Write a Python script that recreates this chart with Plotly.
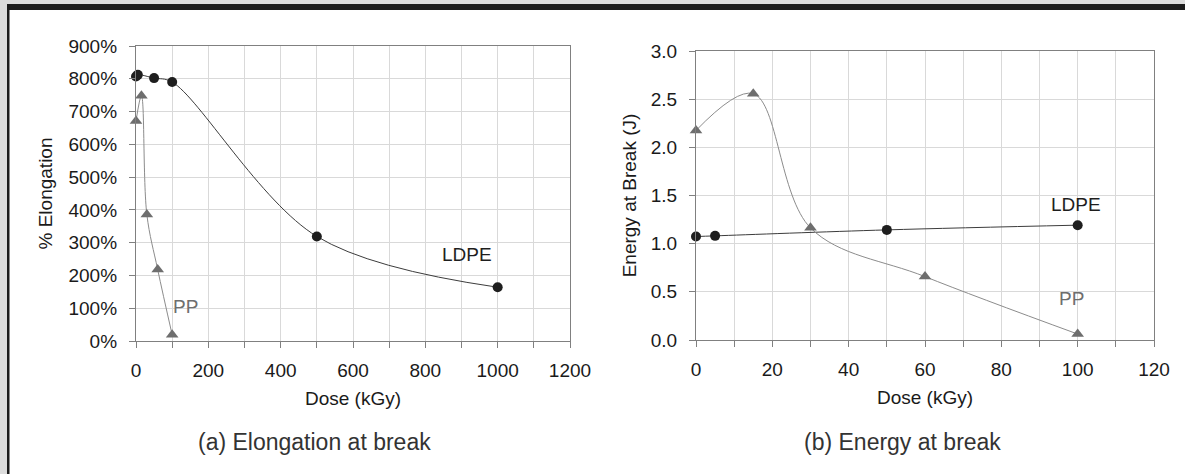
import plotly.graph_objects as go

# (a) elongation at break, % vs dose (kGy)
ldpe_dose_a = [0, 5, 50, 100, 500, 1000]
ldpe_elong = [807, 812, 802, 790, 319, 164]
pp_dose_a = [0, 15, 30, 60, 100]
pp_elong = [671, 748, 386, 218, 19]

# (b) energy at break, J vs dose (kGy)
ldpe_dose_b = [0, 5, 50, 100]
ldpe_energy = [1.074, 1.081, 1.143, 1.192]
pp_dose_b = [0, 15, 30, 60, 100]
pp_energy = [2.175, 2.557, 1.164, 0.658, 0.062]

x_ticks_a = list(range(0, 1201, 100))
x_ticks_b = list(range(0, 121, 10))

FONT = "Liberation Sans, Arial, sans-serif"
LDPE_COL = "#1e1e1e"
PP_COL = "#6e6e6e"

fig = go.Figure()

def add_series(x, y, xa, ya, marker, mcol, lcol, size):
    fig.add_trace(go.Scatter(
        x=x, y=y, xaxis=xa, yaxis=ya, mode="lines+markers",
        line=dict(color=lcol, width=1, shape="spline", smoothing=1),
        marker=dict(symbol=marker, color=mcol, size=size),
        cliponaxis=False, showlegend=False, hoverinfo="x+y"))

add_series(ldpe_dose_a, ldpe_elong, "x", "y", "circle", LDPE_COL, "#3c3c3c", 10)
add_series(pp_dose_a, pp_elong, "x", "y", "triangle-up", PP_COL, "#8c8c8c", 11)
add_series(ldpe_dose_b, ldpe_energy, "x2", "y2", "circle", LDPE_COL, "#3c3c3c", 10)
add_series(pp_dose_b, pp_energy, "x2", "y2", "triangle-up", PP_COL, "#8c8c8c", 11)

W, H = 1185, 474

def px_x(p):
    return p / W

def px_y(p):
    return 1 - p / H

axis_common = dict(
    showgrid=True, gridcolor="#d9d9d9", gridwidth=1,
    showline=True, linecolor="#808080", linewidth=1.3, mirror=True,
    ticks="outside", ticklen=6, tickcolor="#808080", zeroline=False,
    tickfont=dict(family=FONT, size=19, color="#1a1a1a"),
    ticklabelstandoff=8, automargin=False,
)

fig.update_layout(
    width=W, height=H,
    margin=dict(l=0, r=0, t=0, b=0, pad=0, autoexpand=False),
    paper_bgcolor="white", plot_bgcolor="white",
    font=dict(family=FONT, size=19, color="#1a1a1a"),
    xaxis=dict(axis_common, domain=[px_x(136), px_x(570)], range=[0, 1200],
               tickvals=x_ticks_a,
               ticktext=[str(v) if v % 200 == 0 else "" for v in x_ticks_a],
               ticklabelstandoff=6,
               title=dict(text="Dose (kGy)", standoff=11,
                          font=dict(family=FONT, size=19, color="#1a1a1a")),
               anchor="y"),
    yaxis=dict(axis_common, domain=[px_y(341), px_y(46)], range=[0, 900],
               dtick=100, ticksuffix="%",
               title=dict(text="% Elongation", standoff=10,
                          font=dict(family=FONT, size=19, color="#1a1a1a")),
               anchor="x"),
    xaxis2=dict(axis_common, domain=[px_x(696), px_x(1154)], range=[0, 120],
                tickvals=x_ticks_b,
                ticktext=[str(v) if v % 20 == 0 else "" for v in x_ticks_b],
                ticklabelstandoff=6,
                title=dict(text="Dose (kGy)", standoff=11,
                           font=dict(family=FONT, size=19, color="#1a1a1a")),
                anchor="y2"),
    yaxis2=dict(axis_common, domain=[px_y(340), px_y(51)], range=[0, 3],
                dtick=0.5, tickformat=".1f",
                title=dict(text="Energy at Break (J)", standoff=8,
                           font=dict(family=FONT, size=19, color="#1a1a1a")),
                anchor="x2"),
)

# series labels
fig.add_annotation(x=914, y=264, xref="x", yref="y", text="LDPE", showarrow=False,
                   font=dict(family=FONT, size=19, color=LDPE_COL))
fig.add_annotation(x=138, y=105, xref="x", yref="y", text="PP", showarrow=False,
                   font=dict(family=FONT, size=19, color=PP_COL))
fig.add_annotation(x=99.5, y=1.41, xref="x2", yref="y2", text="LDPE", showarrow=False,
                   font=dict(family=FONT, size=19, color=LDPE_COL))
fig.add_annotation(x=98.5, y=0.43, xref="x2", yref="y2", text="PP", showarrow=False,
                   font=dict(family=FONT, size=19, color=PP_COL))

# sub-captions
fig.add_annotation(x=px_x(314), y=px_y(442), xref="paper", yref="paper",
                   xanchor="center", yanchor="middle",
                   text="(a) Elongation at break", showarrow=False,
                   font=dict(family=FONT, size=23, color="#333333"))
fig.add_annotation(x=px_x(902), y=px_y(442), xref="paper", yref="paper",
                   xanchor="center", yanchor="middle",
                   text="(b) Energy at break", showarrow=False,
                   font=dict(family=FONT, size=23, color="#333333"))

# page frame: grey margin, dark top rule and left rule
fig.add_shape(type="rect", xref="paper", yref="paper", x0=0, x1=px_x(7), y0=0, y1=1,
              fillcolor="#dcdcdc", line_width=0, layer="below")
fig.add_shape(type="rect", xref="paper", yref="paper", x0=0, x1=1, y0=px_y(4), y1=1,
              fillcolor="#dcdcdc", line_width=0, layer="below")
fig.add_shape(type="rect", xref="paper", yref="paper", x0=px_x(7), x1=1,
              y0=px_y(10), y1=px_y(4), fillcolor="#1c1c1c", line_width=0)
fig.add_shape(type="rect", xref="paper", yref="paper", x0=px_x(7), x1=px_x(9.5),
              y0=0, y1=px_y(4), fillcolor="#1c1c1c", line_width=0)

# drop the browser's default body margin so the figure sits at the page origin
fig.write_html("out.html", config={"displayModeBar": False},
               post_script="document.body.style.margin='0';")
